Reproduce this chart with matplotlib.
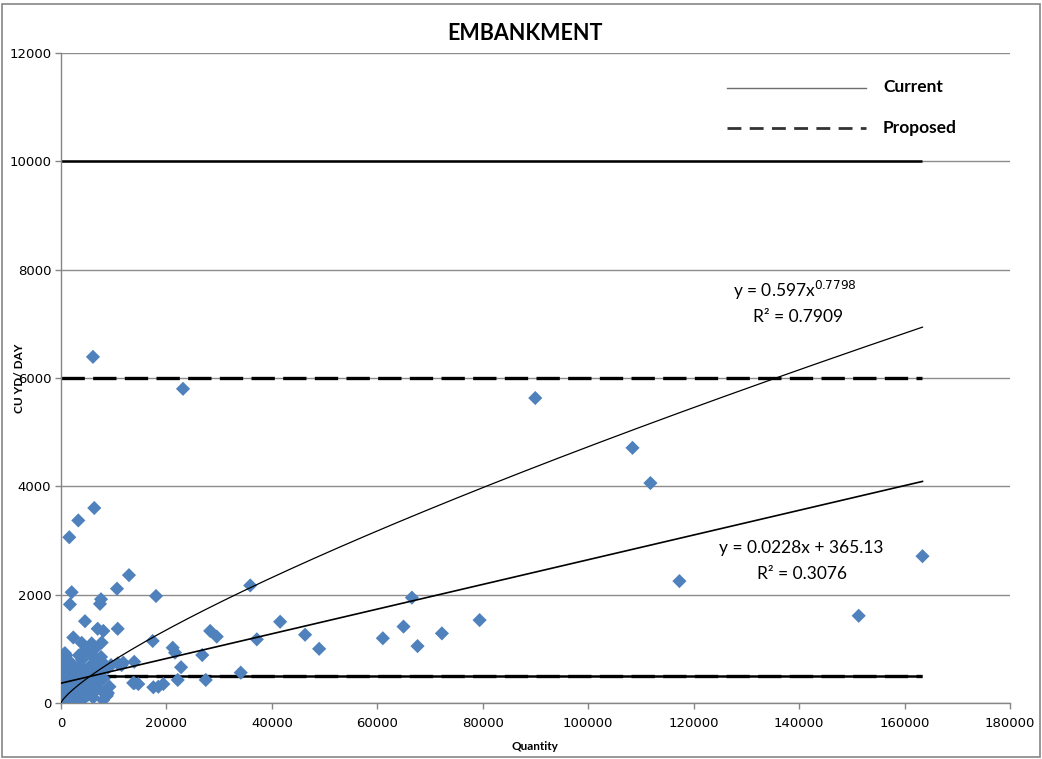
import matplotlib
matplotlib.use("Agg")
import matplotlib.pyplot as plt
from matplotlib.lines import Line2D
from matplotlib.patches import Rectangle
import numpy as np

# Job records: quantity (CU YD) vs production rate (CU YD / DAY)
quantity = [
    # scattered jobs
    6070, 23150, 89960, 108400, 111800, 117300, 151300, 163400,
    6320, 3290, 1580, 2030, 1710, 12900, 10630, 18030, 7600, 7400,
    4560, 35900, 10760, 6960, 8040, 2340, 17400, 3930, 5830, 7720,
    760, 37150, 41570, 28300, 29550, 21200, 21640, 26800, 10760, 11830,
    13900, 22780, 34100, 27460, 22150, 17520, 13900, 14670, 18470, 19420,
    8670, 46300, 48970, 66560, 64970, 61050, 67630, 72250, 79400,
    # dense group of small jobs
    200, 400, 300, 500, 700, 800, 1000, 1200, 1500, 900, 600, 1100, 1300,
    1700, 2000, 2200, 2500, 2800, 3000, 3300, 3600, 3900, 4200, 4500,
    4800, 5100, 5400, 5700, 6000, 6300, 6600, 6900, 7200, 7500, 7800,
    8100, 8400, 8700, 1000, 4000, 5500, 100, 150, 350, 1800, 3400, 4600,
    6100, 7000, 8900, 2900, 1600, 4100, 5200, 3500, 2300, 600, 7600,
    6400, 5000, 9200, 8000, 300, 1400, 2600, 3700, 5900, 6700, 9500,
    11500, 13700, 8900, 50, 250, 1900, 4300,
]
rate = [
    6390, 5800, 5630, 4710, 4060, 2250, 1610, 2710,
    3600, 3370, 3060, 2045, 1820, 2360, 2110, 1975, 1915, 1830,
    1510, 2170, 1370, 1370, 1330, 1210, 1145, 1110, 1100, 1115,
    920, 1175, 1500, 1330, 1225, 1020, 930, 885, 730, 745,
    760, 660, 560, 425, 425, 290, 365, 350, 300, 350,
    130, 1260, 1000, 1945, 1410, 1195, 1050, 1285, 1530,
    50, 120, 300, 200, 80, 350, 250, 150, 400, 500, 600, 700, 550,
    300, 200, 450, 600, 350, 150, 500, 700, 250, 400, 600,
    300, 150, 500, 700, 350, 200, 550, 800, 400, 250, 600,
    450, 700, 150, 880, 800, 900, 650, 450, 800, 750, 880, 150,
    100, 650, 650, 50, 50, 60, 250, 400, 250, 900, 850,
    1000, 1000, 300, 55, 500, 180, 420, 180, 520, 480, 700,
    700, 370, 185, 20, 700, 620, 950,
]

# Fitted trend lines
power_coef, power_exp = 0.597, 0.7798
power_r2 = 0.7909
lin_slope, lin_intercept = 0.0228, 365.13
lin_r2 = 0.3076

# Production limits
current_limits = [500, 10000]
proposed_limits = [500, 6000]

x_ticks = [0, 20000, 40000, 60000, 80000, 100000, 120000, 140000, 160000, 180000]
y_ticks = [0, 2000, 4000, 6000, 8000, 10000, 12000]

narrow = ["Liberation Sans Narrow", "DejaVu Sans"]
label_font = ["Lato", "DejaVu Sans"]

fig = plt.figure(figsize=(10.42, 7.59), dpi=100)
ax = fig.add_axes([0.0585, 0.0738, 0.9108, 0.8564])

x_lo, x_hi = min(quantity), max(quantity)

# limit lines
for lim in current_limits:
    ax.plot([0, x_hi], [lim, lim], color="black", lw=1.8, solid_capstyle="butt", zorder=2)
for lim in proposed_limits:
    ax.plot([0, x_hi], [lim, lim], color="black", lw=2.4, dashes=(7, 2.5), zorder=2)

# observations
ax.scatter(quantity, rate, marker="D", s=52, color="#4F81BD", edgecolors="none", zorder=3)

# trend lines
xs = np.linspace(max(x_lo, 1), x_hi, 600)
ax.plot(xs, power_coef * xs ** power_exp, color="black", lw=0.9, zorder=4)
xl = np.array([0, x_hi])
ax.plot(xl, lin_slope * xl + lin_intercept, color="black", lw=1.2, zorder=4)

ax.set_xlim(0, 180000)
ax.set_ylim(0, 12000)
ax.set_xticks(x_ticks)
ax.set_yticks(y_ticks)
ax.set_xticklabels([str(v) for v in x_ticks], fontfamily=narrow, fontsize=9.5)
ax.set_yticklabels([str(v) for v in y_ticks], fontfamily=narrow, fontsize=9.5)
ax.tick_params(axis="both", direction="out", length=4, color="#868686", width=1, pad=3)
ax.tick_params(axis="x", pad=6)
ax.grid(axis="y", color="#8c8c8c", lw=1)
ax.set_axisbelow(True)
for side in ("top", "right"):
    ax.spines[side].set_visible(False)
for side in ("left", "bottom"):
    ax.spines[side].set_color("#868686")
    ax.spines[side].set_linewidth(1)

fig.text(0.5035, 0.956, "EMBANKMENT", ha="center", va="center",
         fontsize=15.5, fontweight="bold", fontfamily=label_font)
fig.text(0.513, 0.016, "Quantity", ha="center", va="center",
         fontsize=8.5, fontweight="bold", fontfamily=label_font)
fig.text(0.019, 0.502, "CU YD/ DAY", ha="center", va="center", rotation=90,
         fontsize=8.5, fontweight="bold", fontfamily=label_font)

# trend line equations
ax.text(0.773, 0.635, f"y = {power_coef}x$^{{{power_exp}}}$", transform=ax.transAxes,
        ha="center", va="center", fontsize=12.5, fontfamily=label_font)
ax.text(0.777, 0.594, f"R² = {power_r2}", transform=ax.transAxes,
        ha="center", va="center", fontsize=12.5, fontfamily=label_font)
ax.text(0.780, 0.238, f"y = {lin_slope}x + {lin_intercept}", transform=ax.transAxes,
        ha="center", va="center", fontsize=12.5, fontfamily=label_font)
ax.text(0.781, 0.198, f"R² = {lin_r2}", transform=ax.transAxes,
        ha="center", va="center", fontsize=12.5, fontfamily=label_font)

# legend
fig.add_artist(Line2D([0.6977, 0.8311], [0.8841, 0.8841], color="#6e6e6e", lw=1.0,
                      transform=fig.transFigure))
fig.add_artist(Line2D([0.6977, 0.8311], [0.8314, 0.8314], color="#333333", lw=2.0,
                      dashes=(5, 3), transform=fig.transFigure))
fig.text(0.8474, 0.8860, "Current", ha="left", va="center", fontsize=12.5,
         fontweight="bold", fontfamily=label_font)
fig.text(0.8474, 0.8314, "Proposed", ha="left", va="center", fontsize=12.5,
         fontweight="bold", fontfamily=label_font)

# chart frame
fig.add_artist(Rectangle((0.002, 0.003), 0.996, 0.992, transform=fig.transFigure,
                         fill=False, edgecolor="#868686", lw=1.2))

fig.savefig("out.png", dpi=100)
